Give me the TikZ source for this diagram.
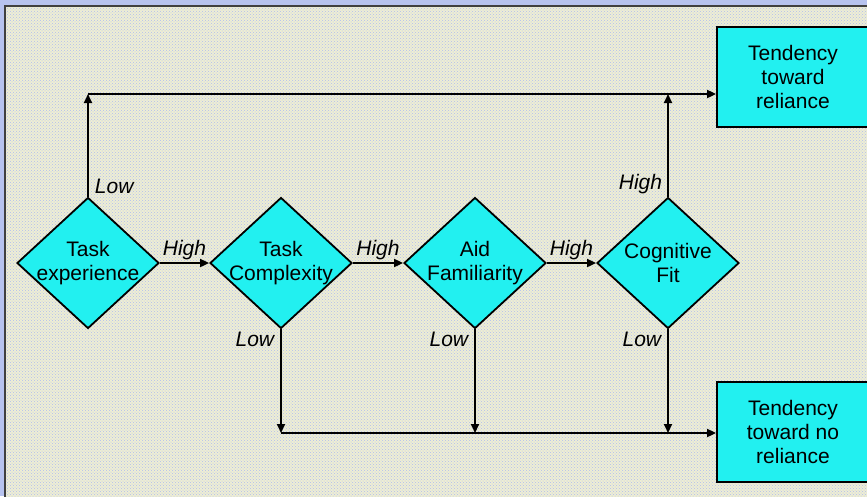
\documentclass[tikz,border=0pt]{standalone}
\usepackage{fontspec}
\setmainfont{Liberation Sans}
\usetikzlibrary{shapes.geometric,arrows.meta,patterns}

\definecolor{frameblue}{RGB}{183,195,239}
\definecolor{paper}{RGB}{238,238,212}
\definecolor{speck}{RGB}{176,188,238}
\definecolor{boxcyan}{RGB}{34,240,240}

\tikzset{
    decision/.style={diamond,draw,line width=1.8pt,fill=boxcyan,
        minimum width=142pt,minimum height=131pt,inner sep=0pt},
    dtext/.style={align=center,font=\fontsize{21}{24.5}\selectfont},
    outcome/.style={rectangle,draw,line width=1.8pt,fill=boxcyan,
        minimum width=152pt,minimum height=100pt,align=center,
        font=\fontsize{21}{24}\selectfont},
    flow/.style={line width=1.8pt,-{Triangle[length=9pt,width=8pt]}},
    branch/.style={font=\fontsize{21}{24}\selectfont\itshape,inner sep=2pt}
}

\begin{document}
\begin{tikzpicture}[x=1pt,y=-1pt]
    \useasboundingbox (0,0) rectangle (867,496);
    % slide background
    \fill[frameblue] (0,0) rectangle (867,496);
    \fill[paper] (5,6) rectangle (880,510);
    \fill[pattern=crosshatch dots,pattern color=speck] (5,6) rectangle (880,510);
    \draw[line width=1.5pt,black!75] (5,510) -- (5,6) -- (880,6);

    % decisions
    \node[decision,label={[dtext]center:Task\\experience}] (exper) at (88,263) {};
    \node[decision,label={[dtext]center:Task\\Complexity}] (cmplx) at (281,263) {};
    \node[decision,label={[dtext]center:Aid\\Familiarity}] (famil) at (475,263) {};
    \node[decision,label={[dtext]center:Cognitive\\Fit}] (cogfit) at (668,263) {};

    % outcomes
    \node[outcome] (rely) at (793,77) {Tendency\\toward\\reliance};
    \node[outcome] (norely) at (793,432) {Tendency\\toward no\\reliance};

    \coordinate (topexp) at (88,94);
    \coordinate (topfit) at (668,94);
    \coordinate (lowcmplx) at (281,433);
    \coordinate (lowfamil) at (475,433);
    \coordinate (lowfit) at (668,433);

    % high branches
    \draw[flow] (exper.east) -- node[branch,above] {High} (cmplx.west);
    \draw[flow] (cmplx.east) -- node[branch,above] {High} (famil.west);
    \draw[flow] (famil.east) -- node[branch,above] {High} (cogfit.west);
    \draw[flow] (cogfit.north) node[branch,anchor=south east,xshift=-3pt] {High} -- (topfit);

    % low branches
    \draw[flow] (exper.north) node[branch,anchor=south west,xshift=4pt] {Low} -- (topexp);
    \draw[flow] (cmplx.south) node[branch,anchor=north east,xshift=-4pt] {Low} -- (lowcmplx);
    \draw[flow] (famil.south) node[branch,anchor=north east,xshift=-4pt] {Low} -- (lowfamil);
    \draw[flow] (cogfit.south) node[branch,anchor=north east,xshift=-4pt] {Low} -- (lowfit);

    % into the outcomes
    \draw[flow] (topexp) -- (topexp -| rely.west);
    \draw[flow] (lowcmplx) -- (lowcmplx -| norely.west);
\end{tikzpicture}
\end{document}
